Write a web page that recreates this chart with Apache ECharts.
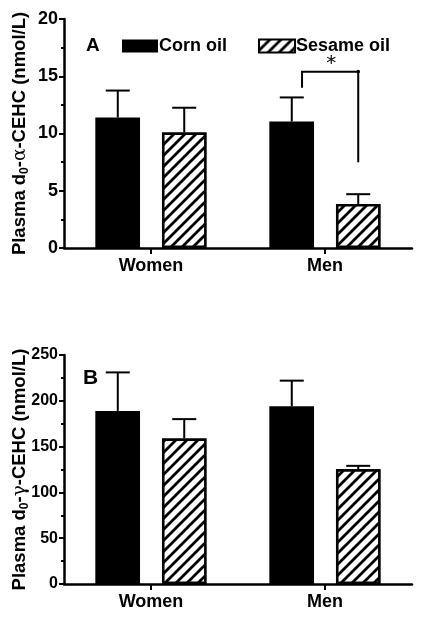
<!DOCTYPE html>
<html>
<head>
<meta charset="utf-8">
<script src="https://cdn.jsdelivr.net/npm/echarts@6/dist/echarts.min.js"></script>
<style>
html,body{margin:0;padding:0;background:#fff;}
#c{width:426px;height:617px;}
</style>
</head>
<body>
<div id="c"></div>
<script>
// ---- data ----
var categories = ['Women', 'Men'];
var seriesNames = ['Corn oil', 'Sesame oil'];
// Panel A: plasma d0-alpha-CEHC (nmol/L)
var alphaCorn = [11.4, 11.05];
var alphaCornErr = [13.75, 13.15];
var alphaSesame = [10.1, 3.85];
var alphaSesameErr = [12.25, 4.7];
var alphaTicks = [0, 5, 10, 15, 20];
// significance bracket (Men): left leg bottom, top, right leg bottom
var alphaBracket = [14.0, 15.4, 7.5];
// Panel B: plasma d0-gamma-CEHC (nmol/L)
var gammaCorn = [189, 194];
var gammaCornErr = [231, 222];
var gammaSesame = [159, 125.5];
var gammaSesameErr = [180, 129];
var gammaTicks = [0, 50, 100, 150, 200, 250];

// ---- hatch pattern ----
function hatch() {
  var s = 11;
  var cv = document.createElement('canvas');
  cv.width = s; cv.height = s;
  var ctx = cv.getContext('2d');
  ctx.fillStyle = '#fff';
  ctx.fillRect(0, 0, s, s);
  ctx.strokeStyle = '#000';
  ctx.lineWidth = 2.8;
  ctx.beginPath();
  ctx.moveTo(-2, s + 2); ctx.lineTo(s + 2, -2);
  ctx.moveTo(-s/2 - 2, s/2 + 2); ctx.lineTo(s/2 + 2, -s/2 - 2);
  ctx.moveTo(s/2 - 2, 1.5*s + 2); ctx.lineTo(1.5*s + 2, s/2 - 2);
  ctx.stroke();
  return cv;
}
var hatchFill = { image: hatch(), repeat: 'repeat' };

var FONT = 'Liberation Sans, Arial, sans-serif';
var chart = echarts.init(document.getElementById('c'), null, { renderer: 'canvas' });

function yAxisOf(gridIndex, ticks, nameRich, labelSize) {
  return {
    gridIndex: gridIndex, type: 'value',
    min: ticks[0], max: ticks[ticks.length - 1], interval: ticks[1] - ticks[0],
    axisLine: { show: true, lineStyle: { color: '#000', width: 2.5 } },
    axisTick: { show: true, length: 5, lineStyle: { color: '#000', width: 2 } },
    minorTick: { show: true, splitNumber: 2, length: 3, lineStyle: { color: '#000', width: 2 } },
    splitLine: { show: false },
    axisLabel: { color: '#000', fontSize: labelSize, fontWeight: 'bold', fontFamily: FONT, margin: 6 },
    name: nameRich, nameLocation: 'middle', nameGap: 33, nameMoveOverlap: false,
    nameTextStyle: {
      color: '#000', fontFamily: FONT,
      rich: {
        a: { fontSize: 18.5, fontWeight: 'bold', fontFamily: FONT, color: '#000', lineHeight: 22 },
        s: { fontSize: 12, fontWeight: 'bold', fontFamily: FONT, color: '#000', lineHeight: 22, verticalAlign: 'bottom', padding: [8, 0, 0, 0] },
        g: { fontSize: 18.5, fontWeight: 'normal', fontFamily: 'DejaVu Serif, serif', color: '#000', lineHeight: 22 }
      }
    }
  };
}
function xAxisOf(gridIndex) {
  return {
    gridIndex: gridIndex, type: 'category', data: categories,
    axisLine: { show: true, lineStyle: { color: '#000', width: 2.5 } },
    axisTick: { show: true, alignWithLabel: true, length: 6, lineStyle: { color: '#000', width: 2 } },
    axisLabel: { color: '#000', fontSize: 18, fontWeight: 'bold', fontFamily: FONT, margin: 9 }
  };
}
function barSeries(name, data, idx, fill) {
  return {
    type: 'bar', name: name, data: data, xAxisIndex: idx, yAxisIndex: idx,
    barCategoryGap: '36%', barGap: '49%',
    itemStyle: { color: fill, borderColor: '#000', borderWidth: fill === '#000' ? 0 : 2.6 },
    emphasis: { disabled: true }, silent: true, z: 2
  };
}
var OFF = 0.191; // bar centre offset as a fraction of the category band
function errSeries(idx, means, errs, side) {
  var d = means.map(function (m, i) { return [i, m, errs[i]]; });
  return {
    type: 'custom', xAxisIndex: idx, yAxisIndex: idx, data: d, silent: true, z: 3,
    renderItem: function (params, api) {
      var c = api.coord([api.value(0), api.value(1)]);
      var t = api.coord([api.value(0), api.value(2)]);
      var band = api.size([1, 0])[0];
      var x = c[0] + side * OFF * band;
      var w = 12;
      return {
        type: 'group',
        children: [
          { type: 'line', shape: { x1: x, y1: c[1], x2: x, y2: t[1] }, style: { stroke: '#000', lineWidth: 2 } },
          { type: 'line', shape: { x1: x - w, y1: t[1], x2: x + w, y2: t[1] }, style: { stroke: '#000', lineWidth: 2 } }
        ]
      };
    }
  };
}

var option = {
  animation: false,
  backgroundColor: '#fff',
  textStyle: { fontFamily: FONT },
  grid: [
    { left: 64, right: 14, top: 19, bottom: 369, containLabel: false, outerBoundsMode: 'none' },
    { left: 64, right: 14, top: 355, bottom: 33, containLabel: false, outerBoundsMode: 'none' }
  ],
  title: [
    { text: 'A', left: 81, top: 31, textStyle: { fontSize: 19, fontWeight: 'bold', color: '#000', fontFamily: FONT } },
    { text: 'B', left: 78, top: 363, textStyle: { fontSize: 21, fontWeight: 'bold', color: '#000', fontFamily: FONT } }
  ],
  legend: {
    left: 117, top: 32, itemWidth: 36, itemHeight: 13, itemGap: 31,
    selectedMode: false,
    textStyle: { color: '#000', fontSize: 18, fontWeight: 'bold', fontFamily: FONT, padding: [0, 0, 0, -4] },
    data: [
      { name: seriesNames[0], icon: 'rect', itemStyle: { color: '#000', borderWidth: 0 } },
      { name: seriesNames[1], icon: 'rect', itemStyle: { color: hatchFill, borderColor: '#000', borderWidth: 2 } }
    ]
  },
  xAxis: [xAxisOf(0), xAxisOf(1)],
  yAxis: [
    yAxisOf(0, alphaTicks, '{a|Plasma d}{s|0}{a|-}{g|α}{a|-CEHC (nmol/L)}', 18),
    yAxisOf(1, gammaTicks, '{a|Plasma d}{s|0}{a|-}{g|γ}{a|-CEHC (nmol/L)}', 16)
  ],
  series: [
    barSeries(seriesNames[0], alphaCorn, 0, '#000'),
    barSeries(seriesNames[1], alphaSesame, 0, hatchFill),
    barSeries(seriesNames[0], gammaCorn, 1, '#000'),
    barSeries(seriesNames[1], gammaSesame, 1, hatchFill),
    errSeries(0, alphaCorn, alphaCornErr, -1),
    errSeries(0, alphaSesame, alphaSesameErr, 1),
    errSeries(1, gammaCorn, gammaCornErr, -1),
    errSeries(1, gammaSesame, gammaSesameErr, 1),
    {
      type: 'custom', xAxisIndex: 0, yAxisIndex: 0, silent: true, z: 4,
      data: [[1, alphaBracket[0], alphaBracket[1], alphaBracket[2]]],
      renderItem: function (params, api) {
        var band = api.size([1, 0])[0];
        var cx = api.coord([api.value(0), 0])[0];
        var lx = cx - 0.132 * band, rx = cx + OFF * band;
        var yl = api.coord([1, api.value(1)])[1];
        var yt = api.coord([1, api.value(2)])[1];
        var yr = api.coord([1, api.value(3)])[1];
        return {
          type: 'group',
          children: [
            { type: 'polyline', shape: { points: [[lx, yl], [lx, yt], [rx, yt], [rx, yr]] }, style: { stroke: '#000', lineWidth: 2, fill: null } },
            { type: 'circle', shape: { cx: rx, cy: yt, r: 1.8 }, style: { fill: '#000' } },
            { type: 'text', x: (lx + rx) / 2 + 1, y: yt - 8, style: { text: '*', fontSize: 20, fontFamily: 'DejaVu Sans, sans-serif', fill: '#000', align: 'center', verticalAlign: 'middle' } }
          ]
        };
      }
    }
  ]
};
chart.setOption(option);
</script>
</body>
</html>
